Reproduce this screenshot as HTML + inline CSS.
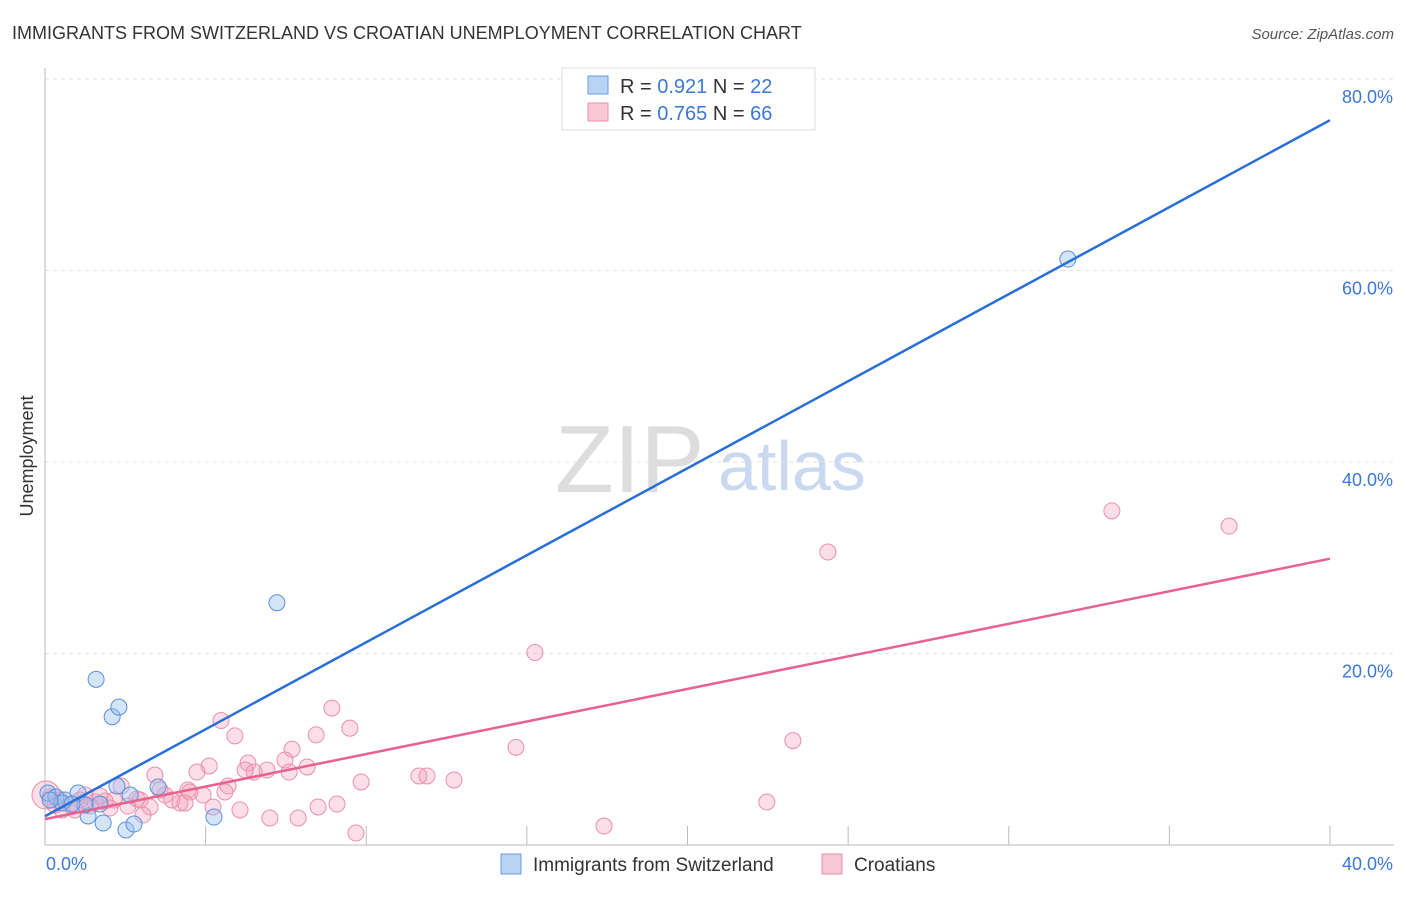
<!DOCTYPE html>
<html><head><meta charset="utf-8"><style>
body{margin:0;background:#fff;font-family:"Liberation Sans",sans-serif}
svg text{font-family:"Liberation Sans",sans-serif}
</style></head><body>
<svg id="c" width="1406" height="892" viewBox="0 0 1406 892">
<text x="12" y="39" font-size="18" fill="#333">IMMIGRANTS FROM SWITZERLAND VS CROATIAN UNEMPLOYMENT CORRELATION CHART</text>
<text x="1394" y="39" font-size="15" fill="#555" font-style="italic" text-anchor="end">Source: ZipAtlas.com</text>
<text x="33" y="456" font-size="18" fill="#333" text-anchor="middle" transform="rotate(-90 33 456)">Unemployment</text>
<text x="555" y="492" font-size="96" fill="#ddd" font-family="Liberation Serif">ZIP</text>
<text x="718" y="490" font-size="70" fill="#c9d9f0">atlas</text>
<g id="grid"></g><g id="axes"></g><g id="pts"></g><g id="lines"></g>
<g>
<rect x="562" y="68" width="253" height="62" fill="#fff" stroke="#ddd"/>
<rect x="588" y="76" width="20" height="18" fill="#b9d3f5" stroke="#6a9be0"/>
<rect x="588" y="103" width="20" height="18" fill="#f9c8d7" stroke="#ea8fab"/>
<text x="620" y="93" font-size="20" fill="#333">R = <tspan fill="#3b78d8">0.921</tspan>   N = <tspan fill="#3b78d8">22</tspan></text>
<text x="620" y="120" font-size="20" fill="#333">R = <tspan fill="#3b78d8">0.765</tspan>   N = <tspan fill="#3b78d8">66</tspan></text>
</g>
<g>
<rect x="501" y="854" width="20" height="20" fill="#b9d3f5" stroke="#6a9be0"/>
<text x="533" y="871" font-size="19" fill="#333">Immigrants from Switzerland</text>
<rect x="822" y="854" width="20" height="20" fill="#f9c8d7" stroke="#ea8fab"/>
<text x="854" y="871" font-size="19" fill="#333">Croatians</text>
</g>
</svg>
<script>
const xTicks=[0,5,10,15,20,25,30,35,40];
const yTicks=[20,40,60,80];
const yTickLabels=["20.0%","40.0%","60.0%","80.0%"];
const xEndLabels=["0.0%","40.0%"];
const blueX=[1.59,2.09,2.30,7.22,31.84,3.52,5.26,2.52,2.77,1.81,1.34,0.09,0.34,0.62,1.03,1.25,1.71,2.24,2.65,0.53,0.84,0.16];
const blueY=[17.3,13.4,14.4,25.3,61.2,6.06,2.92,1.57,2.19,2.30,3.03,5.43,5.01,4.70,5.43,4.18,4.28,6.16,5.22,4.39,4.28,4.70];
const pinkX=[33.21,36.86,24.37,15.25,14.66,23.28,22.47,17.40,9.68,8.93,9.49,8.44,7.69,5.91,5.48,5.11,4.73,3.42,6.32,6.51,7.47,6.91,8.16,7.60,9.84,11.64,11.89,12.73,9.09,8.50,7.88,7.00,6.07,5.70,5.23,4.92,4.45,4.20,3.74,3.27,3.05,2.86,2.58,2.37,2.15,1.87,1.56,1.40,1.09,0.78,0.47,0.16,0.03,3.58,3.95,4.51,5.60,6.23,2.02,1.25,0.93,2.96,4.36,0.53,1.71,0.31];
const pinkY=[34.9,33.3,30.6,20.1,10.2,10.9,4.49,1.98,1.25,14.3,12.2,11.5,10.0,11.4,13.0,8.25,7.62,7.31,8.56,7.62,8.88,7.83,8.15,7.62,6.58,7.21,7.21,6.79,4.28,3.97,2.82,2.82,3.66,6.16,3.97,5.22,5.74,4.39,5.22,3.97,3.13,4.80,4.07,6.16,4.70,4.60,4.49,4.07,4.70,4.18,4.70,5.01,5.22,5.74,4.70,5.54,5.54,7.83,3.86,5.22,3.66,4.70,4.39,3.66,5.12,4.18];
const blueLine=[3.0,75.7];
const pinkLine=[2.7,29.9];
const X=v=>45+v/40*1285, Y=v=>845-v*9.575;
const NS="http://www.w3.org/2000/svg";
function mk(p,t,a){const e=document.createElementNS(NS,t);for(const k in a)e.setAttribute(k,a[k]);document.getElementById(p).appendChild(e);return e;}
yTicks.forEach((t,i)=>{
 const g=mk('grid','line',{x1:45,x2:1394,y1:Y(t),y2:Y(t),stroke:'#e3e3e3','stroke-dasharray':'4,4'});
 
 
 const l=mk('axes','text',{x:1393,y:Y(t)+24,'font-size':18,fill:'#3b78d8','text-anchor':'end'});
 l.textContent=yTickLabels[i];
 
 
});
const ax=mk('axes','line',{x1:45,x2:45,y1:68,y2:845,stroke:'#bbb'});


const bx=mk('axes','line',{x1:45,x2:1394,y1:845,y2:845,stroke:'#bbb'});


xTicks.forEach(t=>{if(t===0)return;
 const k=mk('axes','line',{x1:X(t),x2:X(t),y1:826,y2:845,stroke:'#bbb'});
 
 
});
[[0,'start',46],[40,'end',1393]].forEach((d,i)=>{
 const l=mk('axes','text',{x:d[2],y:870,'font-size':18,fill:'#3b78d8','text-anchor':d[1]});
 l.textContent=xEndLabels[i];
 
 
});
pinkX.forEach((x,i)=>{
 const c=mk('pts','circle',{cx:X(x),cy:Y(pinkY[i]),r:(i===52?14:8),fill:'rgba(244,160,186,0.35)',stroke:'#ec8fac','stroke-width':1});
 
 
});
blueX.forEach((x,i)=>{
 const c=mk('pts','circle',{cx:X(x),cy:Y(blueY[i]),r:8,fill:'rgba(150,190,240,0.4)',stroke:'#5a8fdc','stroke-width':1});
 
 
});
const bl=mk('lines','line',{x1:X(0),y1:Y(blueLine[0]),x2:X(40),y2:Y(blueLine[1]),stroke:'#2a6fd6','stroke-width':2.5});


const pl=mk('lines','line',{x1:X(0),y1:Y(pinkLine[0]),x2:X(40),y2:Y(pinkLine[1]),stroke:'#e8628c','stroke-width':2.5});


</script>
</body></html>
